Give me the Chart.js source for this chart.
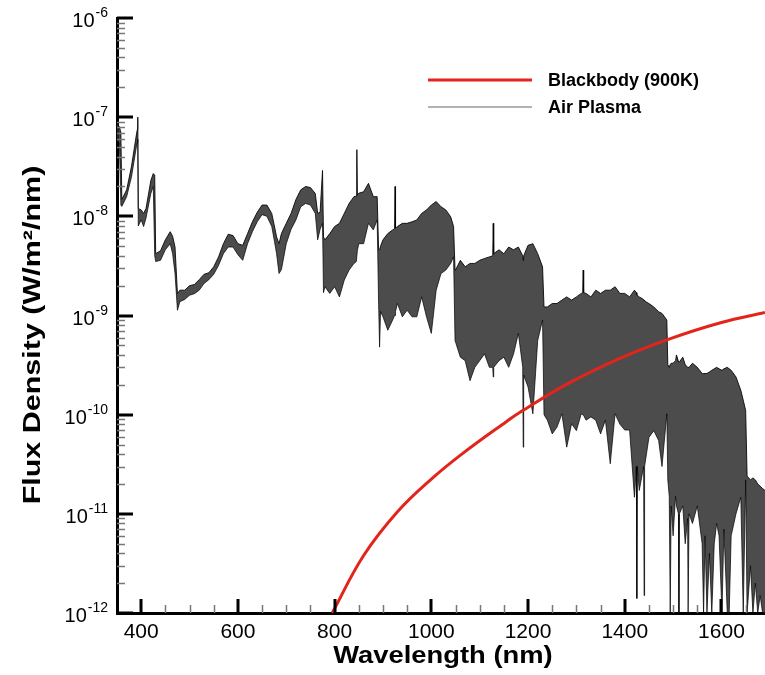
<!DOCTYPE html>
<html>
<head>
    <title>Air Plasma Spectrum</title>
    <script src="https://cdn.jsdelivr.net/npm/chart.js"></script>
    <style>
        body { margin: 0; background: #fff; }
    </style>
</head>
<body>
    <canvas id="spectrumChart" width="765" height="675"></canvas>
    <script>
        var wavelength = [
            350, 355, 358, 360, 370, 380, 390, 392, 393, 394, 400, 405, 410, 420, 425, 428,
            430, 440, 450, 460, 465, 470, 475, 480, 490, 500, 510, 520, 530, 540, 550, 560,
            570, 580, 590, 600, 610, 620, 630, 640, 650, 660, 670, 675, 680, 685, 690, 700,
            710, 720, 730, 740, 750, 760, 765, 770, 775, 777, 780, 790, 800, 810, 820, 830,
            840, 845, 846, 847, 850, 860, 870, 880, 888, 891, 893, 895, 900, 910, 920, 924,
            925, 926, 930, 940, 950, 960, 970, 980, 990, 1000, 1010, 1020, 1030, 1040, 1046, 1049,
            1050, 1060, 1070, 1080, 1090, 1100, 1110, 1120, 1127, 1128, 1129, 1140, 1150, 1160, 1170, 1180,
            1189, 1190, 1191, 1200, 1210, 1220, 1230, 1233, 1240, 1250, 1260, 1270, 1280, 1290, 1300, 1310,
            1313, 1314, 1315, 1320, 1330, 1340, 1350, 1360, 1370, 1380, 1390, 1400, 1410, 1420, 1424, 1425,
            1426, 1430, 1439, 1440, 1441, 1450, 1460, 1470, 1477, 1487, 1489, 1492, 1494, 1496, 1500, 1505,
            1507, 1511, 1512, 1513, 1520, 1525, 1530, 1531, 1533, 1540, 1550, 1560, 1563, 1566, 1570, 1575,
            1580, 1585, 1590, 1595, 1601, 1605, 1612, 1616, 1620, 1630, 1640, 1645, 1650, 1653, 1660, 1665,
            1670, 1675, 1680, 1685, 1690
        ];
        var plasmaUpper = [
            8.7e-8, 8.0e-8, 7.0e-8, 1.48e-8, 1.85e-8, 3.2e-8, 6.6e-8, 7.5e-8, 1.0e-7, 1.2e-8, 1.16e-8, 1.07e-8, 1.2e-8, 2.3e-8, 2.7e-8, 2.6e-8,
            4.2e-9, 4.5e-9, 5.8e-9, 7.0e-9, 6.3e-9, 4.9e-9, 1.66e-9, 1.8e-9, 1.8e-9, 2.0e-9, 2.05e-9, 2.3e-9, 2.6e-9, 2.7e-9, 3.1e-9, 3.9e-9,
            5.3e-9, 6.6e-9, 6.4e-9, 5.3e-9, 5.1e-9, 6.7e-9, 8.8e-9, 1.1e-8, 1.3e-8, 1.3e-8, 1.07e-8, 8.2e-9, 6.2e-9, 5.3e-9, 6.7e-9, 8.5e-9,
            1.07e-8, 1.48e-8, 1.85e-8, 2.0e-8, 1.95e-8, 1.7e-8, 1.07e-8, 1.1e-8, 2.9e-8, 6.2e-9, 5.8e-9, 6.7e-9, 7.9e-9, 8.5e-9, 1.07e-8, 1.35e-8,
            1.58e-8, 1.6e-8, 4.7e-8, 1.65e-8, 1.71e-8, 1.77e-8, 2.15e-8, 1.58e-8, 1.58e-8, 4.6e-9, 4.6e-9, 5.0e-9, 5.8e-9, 6.7e-9, 7.3e-9, 7.5e-9,
            2.0e-8, 7.6e-9, 7.9e-9, 8.5e-9, 8.5e-9, 8.8e-9, 9.2e-9, 1.07e-8, 1.16e-8, 1.3e-8, 1.41e-8, 1.25e-8, 1.16e-8, 9.9e-9, 7.9e-9, 2.9e-9,
            2.87e-9, 3.6e-9, 3.1e-9, 3.35e-9, 3.35e-9, 3.6e-9, 3.76e-9, 3.9e-9, 4.0e-9, 8.5e-9, 4.2e-9, 4.6e-9, 4.2e-9, 4.9e-9, 4.6e-9, 4.9e-9,
            4.0e-9, 3.6e-9, 4.0e-9, 5.1e-9, 5.3e-9, 4.2e-9, 3.1e-9, 1.22e-9, 1.22e-9, 1.32e-9, 1.32e-9, 1.43e-9, 1.54e-9, 1.43e-9, 1.54e-9, 1.67e-9,
            1.7e-9, 2.87e-9, 1.7e-9, 1.67e-9, 1.54e-9, 1.8e-9, 1.67e-9, 1.8e-9, 1.8e-9, 1.95e-9, 1.67e-9, 1.67e-9, 1.54e-9, 1.8e-9, 1.7e-9, 1.6e-9,
            1.6e-9, 1.54e-9, 1.45e-9, 1.43e-9, 1.4e-9, 1.32e-9, 1.22e-9, 1.09e-9, 1.05e-9, 9.0e-10, 3.2e-10, 3.0e-10, 3.2e-10, 3.3e-10, 3.3e-10, 3.5e-10,
            4.0e-10, 3.4e-10, 3.4e-10, 3.4e-10, 3.8e-10, 3.2e-10, 3.0e-10, 3.0e-10, 3.0e-10, 3.3e-10, 3.0e-10, 2.6e-10, 2.6e-10, 2.6e-10, 2.6e-10, 2.7e-10,
            2.8e-10, 2.9e-10, 3.0e-10, 2.9e-10, 2.8e-10, 2.9e-10, 3.0e-10, 2.9e-10, 2.8e-10, 2.4e-10, 1.76e-10, 1.4e-10, 1.1e-10, 2.4e-11, 2.2e-11, 2.3e-11,
            2.2e-11, 2.0e-11, 1.9e-11, 1.8e-11, 1.72e-11
        ];
        var plasmaLower = [
            5.8e-8, 5.5e-8, 1.3e-8, 1.26e-8, 1.58e-8, 2.5e-8, 5.0e-8, 5.5e-8, 6.0e-8, 8.0e-9, 9.2e-9, 7.9e-9, 9.6e-9, 1.7e-8, 2.0e-8, 4.0e-9,
            3.5e-9, 3.6e-9, 4.6e-9, 5.3e-9, 4.2e-9, 2.65e-9, 1.13e-9, 1.38e-9, 1.45e-9, 1.6e-9, 1.66e-9, 1.8e-9, 2.1e-9, 2.3e-9, 2.6e-9, 3.2e-9,
            4.2e-9, 4.9e-9, 4.9e-9, 4.1e-9, 3.6e-9, 5.3e-9, 7.0e-9, 8.8e-9, 1.04e-8, 1.0e-8, 7.9e-9, 5.8e-9, 4.2e-9, 2.65e-9, 2.9e-9, 5.3e-9,
            7.4e-9, 9.2e-9, 1.25e-8, 1.35e-8, 1.3e-8, 1.07e-8, 5.8e-9, 7.4e-9, 8.5e-9, 1.7e-9, 1.95e-9, 1.67e-9, 1.95e-9, 1.54e-9, 2.28e-9, 2.87e-9,
            3.35e-9, 3.5e-9, 3.5e-9, 4.5e-9, 5.3e-9, 5.3e-9, 8.5e-9, 7.3e-9, 9.2e-9, 1.3e-9, 4.8e-10, 1.1e-9, 9.7e-10, 7.1e-10, 9.0e-10, 1.0e-9,
            1.0e-9, 1.1e-9, 1.32e-9, 9.7e-10, 1.13e-9, 9.7e-10, 9.7e-10, 1.54e-9, 9.7e-10, 6.6e-10, 1.8e-9, 2.65e-9, 2.87e-9, 3.35e-9, 3.9e-9, 5.6e-10,
            5.6e-10, 3.8e-10, 3.5e-10, 2.2e-10, 3.0e-10, 3.5e-10, 4.1e-10, 3.0e-10, 3.0e-10, 2.4e-10, 3.0e-10, 3.5e-10, 3.8e-10, 3.0e-10, 4.1e-10, 6.6e-10,
            3.0e-10, 4.7e-11, 2.5e-10, 1.9e-10, 1.02e-10, 5.6e-10, 9.0e-10, 1.0e-10, 8.8e-11, 6.4e-11, 7.5e-11, 1.02e-10, 4.7e-11, 8.1e-11, 6.9e-11, 1.02e-10,
            1.0e-10, 1.0e-10, 1.0e-10, 8.8e-11, 9.5e-11, 8.8e-11, 6.4e-11, 8.8e-11, 3.2e-11, 1.02e-10, 8.0e-11, 7.0e-11, 7.0e-11, 1.47e-11, 3.0e-11, 1.4e-12,
            3.0e-11, 1.72e-11, 3.0e-11, 1.5e-12, 3.0e-11, 5.9e-11, 6.9e-11, 5.5e-11, 3.0e-11, 1.02e-10, 2.2e-11, 1.5e-11, 1.0e-12, 1.2e-11, 6.0e-12, 1.5e-11,
            1.2e-11, 1.0e-11, 1.0e-12, 1.0e-11, 1.2e-11, 5.0e-12, 9.0e-12, 1.0e-12, 1.0e-11, 8.0e-12, 1.2e-11, 5.0e-12, 1.0e-12, 6.0e-12, 1.0e-12, 4.0e-12,
            1.0e-12, 5.0e-12, 8.0e-12, 6.0e-12, 1.0e-12, 7.0e-12, 1.0e-12, 1.0e-12, 6.0e-12, 1.0e-11, 1.47e-11, 1.0e-12, 2.2e-11, 1.0e-12, 3.0e-12, 1.0e-12,
            2.0e-12, 1.0e-12, 1.5e-12, 1.0e-12, 1.0e-12
        ];

        // blackbody at 900 K
        var bbWavelength = [795, 860, 930, 1000, 1065, 1155, 1185, 1285, 1390, 1490, 1600, 1690];
        var bbFlux = [1.0e-12, 3.8e-12, 1.05e-11, 2.24e-11, 4.07e-11, 8.5e-11, 1.07e-10, 2.09e-10, 3.7e-10, 5.75e-10, 8.5e-10, 1.07e-9];

        var xTickValues = [400, 600, 800, 1000, 1200, 1400, 1600];
        var yTickValues = [1e-12, 1e-11, 1e-10, 1e-9, 1e-8, 1e-7, 1e-6];
        var yTickExponents = ['-12', '-11', '-10', '-9', '-8', '-7', '-6'];

        var FONT = "'Liberation Sans', Arial, Helvetica, sans-serif";

        function toPoints(xs, ys) {
            return xs.map(function (x, i) { return { x: x, y: ys[i] }; });
        }

        // stretched bold text, the original titles are wider than the font
        function wideText(ctx, text, x, y, size, stretch, angle) {
            ctx.save();
            ctx.translate(x, y);
            ctx.rotate(angle);
            ctx.scale(stretch, 1);
            ctx.font = 'bold ' + size + 'px ' + FONT;
            ctx.textAlign = 'center';
            ctx.textBaseline = 'middle';
            ctx.fillStyle = '#000';
            ctx.fillText(text, 0, 0);
            ctx.restore();
        }

        // inward major/minor ticks, power-of-ten labels and axis titles
        var axisDecor = {
            id: 'axisDecor',
            afterDraw: function (chart) {
                var ctx = chart.ctx;
                var xs = chart.scales.x, ys = chart.scales.y;
                var area = chart.chartArea;
                ctx.save();
                ctx.lineCap = 'butt';

                ctx.strokeStyle = '#777';
                ctx.lineWidth = 1.5;
                ctx.beginPath();
                for (var v = 400; v <= 1690; v += 50) {
                    if (v % 200 === 0) continue;
                    var px = Math.round(xs.getPixelForValue(v)) + 0.5;
                    ctx.moveTo(px, area.bottom);
                    ctx.lineTo(px, area.bottom - 8);
                }
                for (var d = -12; d < -6; d++) {
                    for (var m = 2; m <= 9; m++) {
                        var py = Math.round(ys.getPixelForValue(m * Math.pow(10, d))) + 0.5;
                        ctx.moveTo(area.left, py);
                        ctx.lineTo(area.left + 8, py);
                    }
                }
                ctx.stroke();

                ctx.strokeStyle = '#000';
                ctx.lineWidth = 3;
                ctx.beginPath();
                xTickValues.forEach(function (t) {
                    var px = Math.round(xs.getPixelForValue(t));
                    ctx.moveTo(px, area.bottom);
                    ctx.lineTo(px, area.bottom - 14);
                });
                yTickValues.forEach(function (t) {
                    var py = Math.round(ys.getPixelForValue(t));
                    ctx.moveTo(area.left, py);
                    ctx.lineTo(area.left + 16, py);
                });
                ctx.stroke();

                // 10^n labels
                ctx.fillStyle = '#000';
                ctx.textBaseline = 'alphabetic';
                yTickValues.forEach(function (t, i) {
                    var py = ys.getPixelForValue(t);
                    var right = area.left - 9;
                    ctx.font = '14px ' + FONT;
                    ctx.textAlign = 'right';
                    var expW = ctx.measureText(yTickExponents[i]).width;
                    ctx.fillText(yTickExponents[i], right, py - 1);
                    ctx.font = '20px ' + FONT;
                    ctx.fillText('10', right - expW - 1, py + 9);
                });

                ctx.restore();

                wideText(ctx, 'Wavelength (nm)', (area.left + area.right) / 2 + 2, 656, 24, 1.14, 0);
                wideText(ctx, 'Flux Density (W/m\u00B2/nm)', 33, 335, 24, 1.27, -Math.PI / 2);
            }
        };

        // legend placed inside the plot, top right
        var insideLegend = {
            id: 'insideLegend',
            afterDraw: function (chart) {
                var ctx = chart.ctx;
                var rows = [
                    { ds: chart.data.datasets[0], y: 80, color: '#e3241b', width: 3 },
                    { ds: chart.data.datasets[1], y: 107, color: '#9a9a9a', width: 1.5 }
                ];
                ctx.save();
                ctx.font = 'bold 18px ' + FONT;
                ctx.textBaseline = 'middle';
                ctx.textAlign = 'left';
                rows.forEach(function (r) {
                    ctx.strokeStyle = r.color;
                    ctx.lineWidth = r.width;
                    ctx.beginPath();
                    ctx.moveTo(428, r.y);
                    ctx.lineTo(532, r.y);
                    ctx.stroke();
                    ctx.fillStyle = '#000';
                    ctx.fillText(r.ds.label, 548, r.y + 1);
                });
                ctx.restore();
            }
        };

        var ctx = document.getElementById('spectrumChart').getContext('2d');
        var spectrumChart = new Chart(ctx, {
            type: 'line',
            data: {
                datasets: [{
                    label: 'Blackbody (900K)',
                    data: toPoints(bbWavelength, bbFlux),
                    borderColor: '#e3241b',
                    borderWidth: 3,
                    pointRadius: 0,
                    tension: 0.4,
                    fill: false
                }, {
                    label: 'Air Plasma',
                    data: toPoints(wavelength, plasmaUpper),
                    borderColor: 'rgba(0,0,0,0.85)',
                    borderWidth: 1,
                    pointRadius: 0,
                    fill: false
                }, {
                    label: 'Air Plasma (lower)',
                    data: toPoints(wavelength, plasmaLower),
                    borderColor: 'rgba(0,0,0,0.7)',
                    borderWidth: 1,
                    pointRadius: 0,
                    fill: 1,
                    backgroundColor: 'rgba(45,45,45,0.85)'
                }]
            },
            options: {
                responsive: false,
                animation: false,
                layout: { padding: { top: 18, right: 0, left: 0, bottom: 0 } },
                plugins: {
                    legend: { display: false },
                    tooltip: { enabled: false }
                },
                scales: {
                    x: {
                        type: 'linear',
                        min: 350,
                        max: 1690,
                        afterBuildTicks: function (s) {
                            s.ticks = xTickValues.map(function (v) { return { value: v }; });
                        },
                        afterFit: function (s) { s.height = 62; },
                        grid: { display: false, drawTicks: false },
                        border: { display: true, color: '#000', width: 3 },
                        ticks: {
                            color: '#000',
                            font: { family: FONT, size: 21 },
                            padding: 7,
                            maxRotation: 0,
                            autoSkip: false,
                            callback: function (value) { return String(value); }
                        }
                    },
                    y: {
                        type: 'logarithmic',
                        min: 1e-12,
                        max: 1e-6,
                        afterBuildTicks: function (s) {
                            s.ticks = yTickValues.map(function (v) { return { value: v }; });
                        },
                        afterFit: function (s) { s.width = 117; },
                        grid: { display: false, drawTicks: false },
                        border: { display: true, color: '#000', width: 3 },
                        ticks: { display: false }
                    }
                }
            },
            plugins: [axisDecor, insideLegend]
        });
    </script>
</body>
</html>
